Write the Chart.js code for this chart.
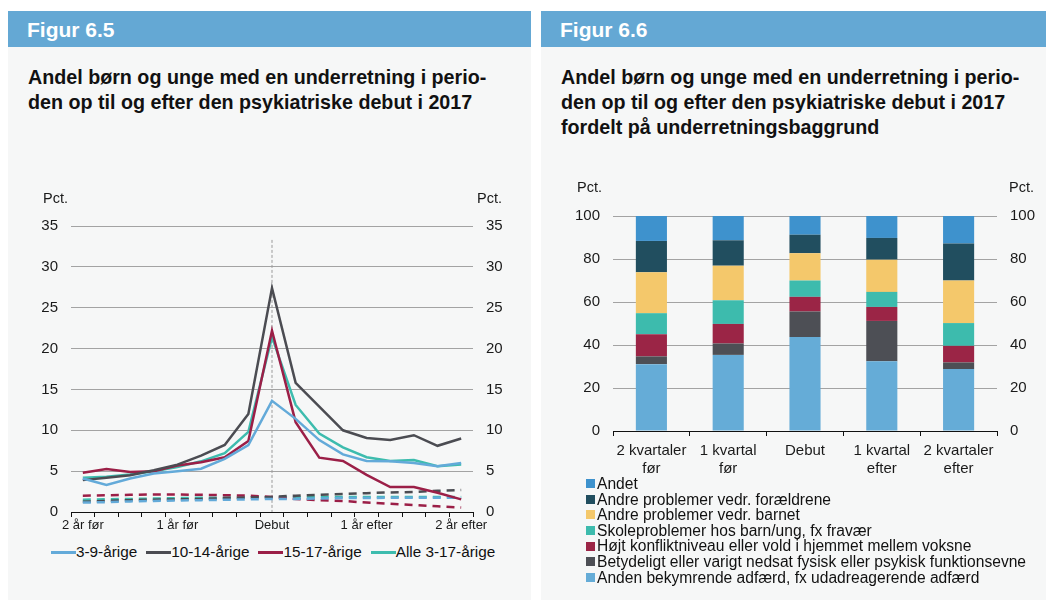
<!DOCTYPE html>
<html>
<head>
<meta charset="utf-8">
<script src="https://cdn.jsdelivr.net/npm/chart.js@4.4.1/dist/chart.umd.min.js"></script>
<style>
  body { margin: 0; background: #fff; width: 1053px; height: 603px; position: relative; overflow: hidden;
         font-family: "Liberation Sans", Arial, sans-serif; color: #111; }
  .panel { position: absolute; top: 11px; height: 589px; background: #f6f7f7; }
  .head { height: 36px; line-height: 37px; background: #64a8d4; color: #fff; font-weight: bold;
          font-size: 21px; padding-left: 19px; }
  .title { position: absolute; left: 20px; top: 54px; font-weight: bold; font-size: 19.7px; line-height: 25px; }
  canvas { position: absolute; }
  .lineLegend { position: absolute; left: 43px; top: 532px; display: flex; font-size: 15.3px; line-height: 18px; }
  .lineLegend span.item { display: flex; align-items: center; margin-right: 9px; }
  .lineLegend span.mark { display: inline-block; width: 25px; height: 3px; }
  .barLegend { position: absolute; left: 45px; top: 465px; font-size: 15.6px; line-height: 15.6px; }
  .barLegend div { display: flex; align-items: center; white-space: nowrap; }
  .barLegend span.mark { display: inline-block; width: 9px; height: 9px; margin-right: 2px; }
</style>
</head>
<body>
<div class="panel" style="left:8px;width:523px;">
  <div class="head">Figur 6.5</div>
  <div class="title">Andel børn og unge med en underretning i perio-<br>den op til og efter den psykiatriske debut i 2017</div>
  <canvas id="lineChart" width="523" height="360" style="left:0;top:169px;"></canvas>
  <div class="lineLegend" id="lineLegend"></div>
</div>
<div class="panel" style="left:541px;width:505px;">
  <div class="head">Figur 6.6</div>
  <div class="title">Andel børn og unge med en underretning i perio-<br>den op til og efter den psykiatriske debut i 2017<br>fordelt på underretningsbaggrund</div>
  <canvas id="barChart" width="505" height="310" style="left:0;top:159px;"></canvas>
  <div class="barLegend" id="barLegend"></div>
</div>

<script>
// Figur 6.5 - kvartaler omkring debut
const quarterLabels = ["2 år før", "", "", "", "1 år før", "", "", "", "Debut", "", "", "", "1 år efter", "", "", "", "2 år efter"];
const lineYTicks = [0, 5, 10, 15, 20, 25, 30, 35];

const age3to9 = [4.1, 3.3, 4.1, 4.7, 5.0, 5.3, 6.5, 8.2, 13.6, 11.4, 8.8, 7.05, 6.25, 6.2, 6.0, 5.6, 6.0];
const age10to14 = [3.9, 4.2, 4.5, 5.1, 5.8, 6.9, 8.2, 12.0, 27.4, 15.8, 12.9, 10.0, 9.05, 8.8, 9.4, 8.1, 9.0];
const age15to17 = [4.8, 5.25, 4.9, 5.0, 5.7, 6.1, 6.7, 8.7, 22.2, 11.0, 6.65, 6.25, 4.55, 3.05, 3.05, 2.35, 1.55];
const ageAll = [4.2, 4.3, 4.6, 5.0, 5.5, 6.2, 7.2, 9.8, 21.4, 13.1, 9.6, 7.9, 6.7, 6.25, 6.35, 5.6, 5.8];

// stiplede linjer (sammenligningsgruppe)
const cmp3to9 = [1.15, 1.2, 1.3, 1.35, 1.4, 1.45, 1.5, 1.55, 1.6, 1.6, 1.65, 1.7, 1.7, 1.75, 1.75, 1.75, 1.75];
const cmp10to14 = [1.25, 1.35, 1.45, 1.5, 1.55, 1.6, 1.7, 1.75, 1.85, 2.0, 2.1, 2.2, 2.3, 2.4, 2.45, 2.6, 2.7];
const cmp15to17 = [2.0, 2.05, 2.1, 2.15, 2.15, 2.1, 2.05, 2.0, 1.85, 1.6, 1.45, 1.35, 1.15, 1.0, 0.85, 0.7, 0.55];
const cmpAll = [1.5, 1.55, 1.6, 1.65, 1.7, 1.75, 1.75, 1.8, 1.8, 1.8, 1.8, 1.85, 1.85, 1.85, 1.85, 1.85, 1.85];

const lineNames = ["3-9-årige", "10-14-årige", "15-17-årige", "Alle 3-17-årige"];
const lineColors = ["#63aad9", "#4b4c52", "#9b1f47", "#3dbcae"];

// Figur 6.6 - underretningsbaggrund
const barCategories = [["2 kvartaler", "før"], ["1 kvartal", "før"], "Debut", ["1 kvartal", "efter"], ["2 kvartaler", "efter"]];
const barYTicks = [0, 20, 40, 60, 80, 100];
const andenAdfaerd = [31.1, 35.4, 43.7, 32.5, 28.8];
const nedsatFunktion = [3.6, 5.3, 11.9, 18.7, 3.1];
const konflikt = [10.3, 9.1, 6.8, 6.5, 7.7];
const skole = [9.8, 11.0, 7.6, 7.0, 10.6];
const barnet = [19.0, 16.1, 12.7, 15.0, 19.8];
const foraeldre = [14.6, 11.8, 8.6, 10.1, 17.2];
const andet = [11.6, 11.3, 8.7, 10.2, 12.8];

const barNames = [
  "Anden bekymrende adfærd, fx udadreagerende adfærd",
  "Betydeligt eller varigt nedsat fysisk eller psykisk funktionsevne",
  "Højt konfliktniveau eller vold i hjemmet mellem voksne",
  "Skoleproblemer hos barn/ung, fx fravær",
  "Andre problemer vedr. barnet",
  "Andre problemer vedr. forældrene",
  "Andet",
];
const barColors = ["#65acd7", "#4d4f55", "#9b2546", "#3dbbad", "#f4c86b", "#214e5f", "#3e92cd"];

const fontFamily = '"Liberation Sans", Arial, sans-serif';
Chart.defaults.font.family = fontFamily;
Chart.defaults.font.size = 15;
Chart.defaults.color = "#1a1a1a";

// "Pct." over begge y-akser
function pctPlugin(leftX, rightX, y) {
  return {
    id: "pct",
    afterDraw(chart) {
      const ctx = chart.ctx;
      ctx.save();
      ctx.font = "14.5px " + fontFamily;
      ctx.fillStyle = "#1a1a1a";
      ctx.textBaseline = "middle";
      ctx.textAlign = "right";
      ctx.fillText("Pct.", leftX, y);
      ctx.textAlign = "left";
      ctx.fillText("Pct.", rightX, y);
      ctx.restore();
    },
  };
}

const debutLine = {
  id: "debutLine",
  beforeDatasetsDraw(chart) {
    const x = chart.scales.x.getPixelForValue(8);
    const top = chart.scales.y.getPixelForValue(33.3);
    const bottom = chart.scales.y.getPixelForValue(0);
    const ctx = chart.ctx;
    ctx.save();
    ctx.strokeStyle = "#9a9a9a";
    ctx.lineWidth = 1;
    ctx.setLineDash([3, 2]);
    ctx.beginPath();
    ctx.moveTo(x, top);
    ctx.lineTo(x, bottom);
    ctx.stroke();
    ctx.restore();
  },
};

function yAxis(ticks, position, width, showGrid) {
  return {
    type: "linear",
    position: position,
    min: ticks[0],
    max: ticks[ticks.length - 1],
    afterBuildTicks: (scale) => { scale.ticks = ticks.map((v) => ({ value: v })); },
    afterFit: (scale) => { scale.width = width; },
    border: { display: false },
    grid: {
      display: showGrid,
      drawTicks: false,
      color: (c) => (c.tick && c.tick.value === 0 ? "rgba(0,0,0,0)" : "#a3a3a3"),
      lineWidth: 1,
    },
    ticks: { padding: 13, color: "#1a1a1a" },
  };
}

// linjediagram
const lineSets = [];
[age3to9, age10to14, age15to17, ageAll].forEach((d, i) => {
  lineSets.push({
    label: lineNames[i], data: d, borderColor: lineColors[i], backgroundColor: lineColors[i],
    borderWidth: 2.5, pointRadius: 0, tension: 0, order: 1,
  });
});
[cmp3to9, cmp10to14, cmp15to17, cmpAll].forEach((d, i) => {
  lineSets.push({
    label: lineNames[i] + " (sammenligning)", data: d, borderColor: lineColors[i],
    borderWidth: 2.5, borderDash: [8, 6], pointRadius: 0, tension: 0, order: 2,
  });
});

new Chart(document.getElementById("lineChart"), {
  type: "line",
  data: { labels: quarterLabels, datasets: lineSets },
  options: {
    responsive: false,
    animation: false,
    devicePixelRatio: 1,
    layout: { padding: { top: 46, left: 0, right: 0, bottom: 0 } },
    plugins: { legend: { display: false }, tooltip: { enabled: false } },
    scales: {
      x: {
        offset: true,
        afterFit: (scale) => { scale.height = 28; },
        border: { display: true, color: "#111", width: 1 },
        grid: { offset: true, drawOnChartArea: false, drawTicks: true, tickLength: 5, color: "#111" },
        ticks: { autoSkip: false, maxRotation: 0, padding: 1, font: { size: 13 } },
      },
      y: yAxis(lineYTicks, "left", 63, true),
      y2: yAxis(lineYTicks, "right", 58, false),
    },
  },
  plugins: [debutLine, pctPlugin(60, 469, 19)],
});

// stablet søjlediagram
const barSeries = [andenAdfaerd, nedsatFunktion, konflikt, skole, barnet, foraeldre, andet];
new Chart(document.getElementById("barChart"), {
  type: "bar",
  data: {
    labels: barCategories,
    datasets: barSeries.map((d, i) => ({
      label: barNames[i], data: d, backgroundColor: barColors[i], borderWidth: 0,
      categoryPercentage: 1, barPercentage: 0.405,
    })),
  },
  options: {
    responsive: false,
    animation: false,
    devicePixelRatio: 1,
    layout: { padding: { top: 46, left: 0, right: 0, bottom: 0 } },
    plugins: { legend: { display: false }, tooltip: { enabled: false } },
    scales: {
      x: {
        stacked: true,
        afterFit: (scale) => { scale.height = 49; },
        border: { display: true, color: "#111", width: 1 },
        grid: { offset: true, drawOnChartArea: false, drawTicks: true, tickLength: 5, color: "#111" },
        ticks: { autoSkip: false, maxRotation: 0, padding: 6, font: { size: 15, lineHeight: 1.2 } },
      },
      y: Object.assign(yAxis(barYTicks, "left", 72, true), { stacked: true }),
      y2: yAxis(barYTicks, "right", 49, false),
    },
  },
  plugins: [pctPlugin(61, 468, 18)],
});

// legender
const lineLegend = document.getElementById("lineLegend");
lineNames.forEach((name, i) => {
  const item = document.createElement("span");
  item.className = "item";
  item.innerHTML = '<span class="mark" style="background:' + lineColors[i] + '"></span>' + name;
  lineLegend.appendChild(item);
});

const barLegend = document.getElementById("barLegend");
for (let i = barNames.length - 1; i >= 0; i--) {
  const row = document.createElement("div");
  row.innerHTML = '<span class="mark" style="background:' + barColors[i] + '"></span>' + barNames[i];
  barLegend.appendChild(row);
}
</script>
</body>
</html>
